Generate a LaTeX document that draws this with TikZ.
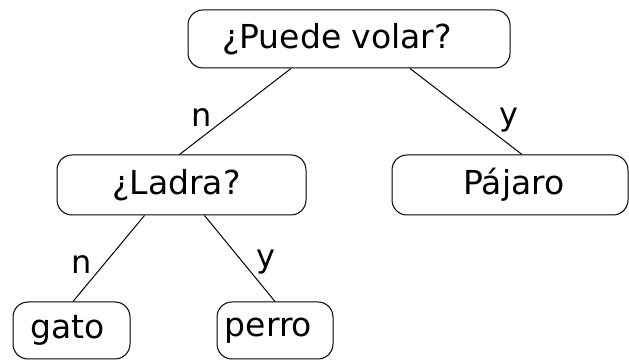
\documentclass[tikz,border=0pt]{standalone}
\usepackage{fontspec}
\setmainfont{DejaVu Sans}
\usepackage{tikz}
\usetikzlibrary{positioning}

\tikzset{
  box/.style={draw, rounded corners=15pt, line width=1pt, inner sep=0pt,
    font=\fontsize{33}{40}\selectfont},
  lbl/.style={font=\fontsize{32}{38}\selectfont, inner sep=0pt}
}

\begin{document}
\begin{tikzpicture}[x=1pt, y=1pt, line width=1pt]
\useasboundingbox (0,0) rectangle (629,361);
%tree
\node [box, minimum width=322pt, minimum height=58pt] (fly) at (349,322) {¿Puede volar?\kern24pt\relax};
\node [box, minimum width=249pt, minimum height=60pt] (bark) at (181.5,176) {¿Ladra?\kern10pt\relax};
\node [box, minimum width=236pt, minimum height=60pt] (bird) at (510,176) {\kern8pt Pájaro};
\node [box, minimum width=117pt, minimum height=57pt] (cat) at (71.5,30.5) {gato\kern8pt\relax};
\node [box, minimum width=116pt, minimum height=57pt] (dog) at (275,30.5) {perro\kern13pt\relax};

\draw ([xshift=-58pt]fly.south) -- node [lbl, pos=0.57, xshift=-26pt] (n1) {n} ([xshift=-2pt]bark.north);
\draw ([xshift=61pt]fly.south) -- node [lbl, pos=0.6, xshift=32pt] (y1) {y} ([xshift=12pt]bird.north);
\draw ([xshift=-37pt]bark.south) -- node [lbl, pos=0.575, xshift=-22pt] (n2) {n} ([xshift=1.5pt]cat.north);
\draw ([xshift=23pt]bark.south) -- node [lbl, pos=0.54, xshift=23pt] (y2) {y} (dog.north);
\end{tikzpicture}
\end{document}
